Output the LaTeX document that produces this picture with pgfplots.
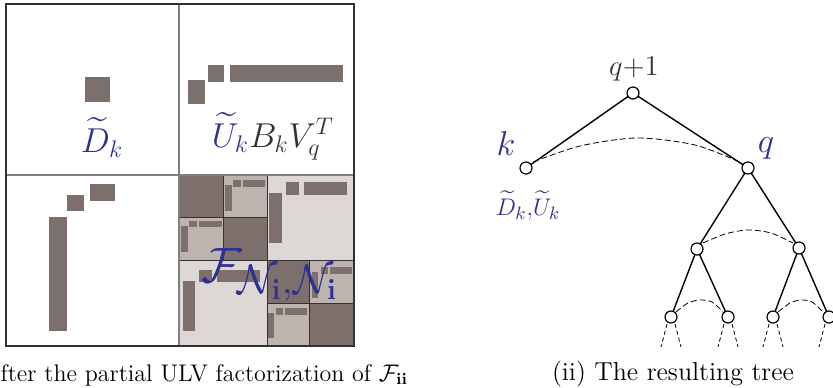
\documentclass[border=0pt]{standalone}
\usepackage{pgfplots}
\pgfplotsset{compat=1.18}
\usepackage{amsmath,amssymb}
\definecolor{darkb}{RGB}{125,112,108}
\definecolor{medb}{RGB}{189,180,176}
\definecolor{lightb}{RGB}{221,216,213}
\definecolor{blueL}{RGB}{46,49,146}
\definecolor{txtg}{RGB}{50,50,50}
\newcommand\rect[5]{\addplot[#5] coordinates {(#1,#2) (#3,#2) (#3,#4) (#1,#4)} -- cycle;}
\newcommand\seg[5]{\addplot[#5] coordinates {(#1,#2) (#3,#4)};}
\begin{document}
\begin{tikzpicture}
\begin{axis}[x=0.5pt, y=0.5pt, xmin=0, xmax=833, ymin=0, ymax=387, y dir=reverse,
  axis lines=none, scale only axis, clip=true, clip marker paths=true]
% ---------- matrix part ----------
\rect{85}{77}{110}{102}{fill=darkb, draw=none}
\rect{188}{80}{205}{104}{fill=darkb, draw=none}
\rect{208}{65}{224}{82}{fill=darkb, draw=none}
\rect{230}{65}{343}{82}{fill=darkb, draw=none}
\rect{67}{195}{84}{211}{fill=darkb, draw=none}
\rect{90}{184}{115}{201}{fill=darkb, draw=none}
\rect{49}{217}{67}{331}{fill=darkb, draw=none}
% bottom-right block
\rect{179}{175}{354}{346}{fill=lightb, draw=none}
\rect{179}{175}{223}{217}{fill=darkb, draw=txtg, line width=0.5pt}
\rect{223}{175}{267}{217}{fill=medb, draw=txtg, line width=0.5pt}
\rect{179}{217}{223}{260}{fill=medb, draw=txtg, line width=0.5pt}
\rect{223}{217}{267}{260}{fill=darkb, draw=txtg, line width=0.5pt}
\rect{233}{180}{241}{187}{fill=darkb, draw=none}
\rect{243}{180}{265}{187}{fill=darkb, draw=none}
\rect{225}{185}{232}{211}{fill=darkb, draw=none}
\rect{189}{221}{197}{227}{fill=darkb, draw=none}
\rect{199}{221}{222}{227}{fill=darkb, draw=none}
\rect{181}{226}{188}{252}{fill=darkb, draw=none}
\rect{267}{175}{354}{260}{fill=lightb, draw=txtg, line width=0.5pt}
\rect{286}{182}{299}{195}{fill=darkb, draw=none}
\rect{304}{182}{347}{195}{fill=darkb, draw=none}
\rect{269}{193}{282}{243}{fill=darkb, draw=none}
\rect{179}{260}{267}{346}{fill=lightb, draw=txtg, line width=0.5pt}
\rect{199}{270}{212}{282}{fill=darkb, draw=none}
\rect{217}{270}{260}{282}{fill=darkb, draw=none}
\rect{183}{281}{195}{331}{fill=darkb, draw=none}
\rect{267}{260}{309}{303}{fill=darkb, draw=txtg, line width=0.5pt}
\rect{309}{260}{354}{303}{fill=medb, draw=txtg, line width=0.5pt}
\rect{267}{303}{309}{346}{fill=medb, draw=txtg, line width=0.5pt}
\rect{309}{303}{354}{346}{fill=darkb, draw=txtg, line width=0.5pt}
\rect{321}{267}{328}{274}{fill=darkb, draw=none}
\rect{330}{267}{352}{274}{fill=darkb, draw=none}
\rect{312}{272}{318}{298}{fill=darkb, draw=none}
\rect{276}{308}{283}{315}{fill=darkb, draw=none}
\rect{285}{308}{307}{315}{fill=darkb, draw=none}
\rect{268}{313}{274}{338}{fill=darkb, draw=none}
% dividing lines and border
\seg{179}{4}{179}{346}{draw=gray, line width=0.6pt}
\seg{6}{175}{354}{175}{draw=gray, line width=0.6pt}
\rect{6}{4}{354}{346}{draw=txtg, line width=1.3pt, fill=none}
% labels
\node[anchor=base, text=blueL, font=\fontsize{18}{20}\selectfont] at (axis cs:102,152) {$\widetilde{D}_k$};
\node[anchor=base, font=\fontsize{18}{20}\selectfont] at (axis cs:273,147) {$\textcolor{blueL}{\widetilde{U}_k}\textcolor{txtg}{B_k V_q^T}$};
\node[anchor=base, text=blueL, font=\fontsize{30}{32}\selectfont] at (axis cs:270,282) {$\mathcal{F}_{\mathcal{N}_{\mathbf{i}},\mathcal{N}_{\mathbf{i}}}$};
% ---------- tree ----------
\seg{633}{93}{526}{168}{black, line width=0.7pt}
\seg{633}{93}{748}{168}{black, line width=0.7pt}
\seg{748}{168}{697}{249}{black, line width=0.7pt}
\seg{748}{168}{799}{248}{black, line width=0.7pt}
\seg{697}{249}{671}{317}{black, line width=0.7pt}
\seg{697}{249}{728}{317}{black, line width=0.7pt}
\seg{799}{248}{773}{317}{black, line width=0.7pt}
\seg{799}{248}{829}{317}{black, line width=0.7pt}
\addplot[smooth, black, line width=0.4pt, dash pattern=on 3pt off 1.5pt] coordinates {(533,162) (580,146) (637,138) (695,145) (742,163)};
\addplot[smooth, black, line width=0.4pt, dash pattern=on 3pt off 1.5pt] coordinates {(703,243) (725,234) (748,230) (771,233) (793,243)};
\addplot[smooth, black, line width=0.4pt, dash pattern=on 3pt off 1.5pt] coordinates {(676,312) (688,303) (700,300) (712,302) (723,312)};
\addplot[smooth, black, line width=0.4pt, dash pattern=on 3pt off 1.5pt] coordinates {(778,312) (790,303) (801,300) (812,302) (823,312)};
\seg{667}{324}{661}{347}{black, line width=0.4pt, dash pattern=on 2pt off 1.5pt}
\seg{675}{324}{681}{347}{black, line width=0.4pt, dash pattern=on 2pt off 1.5pt}
\seg{724}{324}{718}{347}{black, line width=0.4pt, dash pattern=on 2pt off 1.5pt}
\seg{732}{324}{738}{347}{black, line width=0.4pt, dash pattern=on 2pt off 1.5pt}
\seg{769}{324}{763}{347}{black, line width=0.4pt, dash pattern=on 2pt off 1.5pt}
\seg{777}{324}{783}{347}{black, line width=0.4pt, dash pattern=on 2pt off 1.5pt}
\seg{825}{324}{819}{347}{black, line width=0.4pt, dash pattern=on 2pt off 1.5pt}
\addplot[only marks, mark=*, mark size=3pt, mark options={fill=white, draw=black, line width=0.6pt}] coordinates {(633,93) (526,168) (748,168) (697,249) (799,248) (671,317) (728,317) (773,317) (829,317)};
\node[anchor=base, text=txtg, font=\fontsize{15}{17}\selectfont] at (axis cs:634,75) {$q{+}1$};
\node[anchor=base, text=blueL, font=\fontsize{16}{18}\selectfont] at (axis cs:506,155) {$k$};
\node[anchor=base, text=blueL, font=\fontsize{16}{18}\selectfont] at (axis cs:766,152) {$q$};
\node[anchor=base, text=blueL, font=\fontsize{13}{15}\selectfont] at (axis cs:528,215) {$\widetilde{D}_k{,}\widetilde{U}_k$};
% ---------- captions ----------
\node[anchor=base west, inner sep=0pt, font=\fontsize{12}{14}\selectfont] at (axis cs:-50,381) {(i) After the partial ULV factorization of $\mathcal{F}_{\mathbf{ii}}$};
\node[anchor=base, inner sep=0pt, font=\fontsize{13}{14}\selectfont] at (axis cs:673,380) {(ii) The resulting tree};
\end{axis}
\pgfresetboundingbox
\path (current axis.south west) rectangle (current axis.north east);
\end{tikzpicture}
\end{document}
